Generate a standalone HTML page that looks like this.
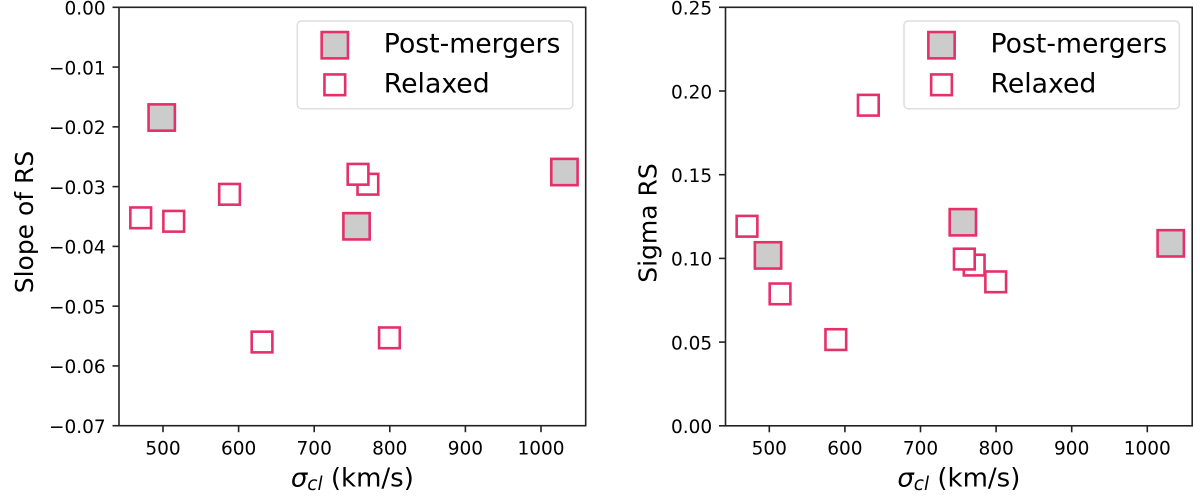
<!DOCTYPE html>
<html>
<head>
<meta charset="utf-8">
<style>
html,body{margin:0;padding:0;background:#fff;}
svg{display:block;}
text{font-family:"DejaVu Sans",sans-serif;fill:#000;}
</style>
</head>
<body>
<svg id="chart" xmlns="http://www.w3.org/2000/svg" width="1200" height="499" viewBox="0 0 1200 499"></svg>
<script>
var xTicks = [500, 600, 700, 800, 900, 1000];
var slopeTicks = [0, -0.01, -0.02, -0.03, -0.04, -0.05, -0.06, -0.07];
var sigmaTicks = [0, 0.05, 0.10, 0.15, 0.20, 0.25];
var mergerSigmaCl = [498.3, 756, 1031];
var mergerSlope = [-0.01844, -0.03664, -0.02756];
var mergerSigmaRs = [0.1018, 0.1216, 0.109];
var relaxedSigmaCl = [470.5, 514.2, 588, 631, 771, 758, 799.5];
var relaxedSlope = [-0.03522, -0.0358, -0.03129, -0.056, -0.0296, -0.02794, -0.0553];
var relaxedSigmaRs = [0.1192, 0.0788, 0.0515, 0.1915, 0.096, 0.0996, 0.086];

var svg = document.getElementById('chart');
var NS = 'http://www.w3.org/2000/svg';
var COLOR = '#e5306a';

function mk(tag, attrs, text) {
  var el = document.createElementNS(NS, tag);
  for (var k in attrs) el.setAttribute(k, attrs[k]);
  if (text !== undefined) el.textContent = text;
  svg.appendChild(el);
  return el;
}

function square(cx, cy, size, fill, name) {
  var el = mk('rect', {x: cx - size / 2, y: cy - size / 2, width: size, height: size, fill: fill, stroke: COLOR, 'stroke-width': 2.6});
  
  
}

function drawPanel(p) {
  var sx = function (v) { return p.x500 + (v - 500) * p.xScale; };
  var sy = function (v) { return p.top + (p.yMax - v) / (p.yMax - p.yMin) * (p.bottom - p.top); };

  var i, el;
  for (i = 0; i < mergerSigmaCl.length; i++) {
    square(sx(mergerSigmaCl[i]), sy(p.merger[i]), 26.3, '#cccccc', p.id + '-merger-point');
  }
  for (i = 0; i < relaxedSigmaCl.length; i++) {
    square(sx(relaxedSigmaCl[i]), sy(p.relaxed[i]), 20.7, '#ffffff', p.id + '-relaxed-point');
  }

  el = mk('rect', {x: p.left, y: p.top, width: p.right - p.left, height: p.bottom - p.top, fill: 'none', stroke: '#222', 'stroke-width': 1.6});
  
  

  xTicks.forEach(function (t) {
    var x = sx(t);
    var line = mk('line', {x1: x, x2: x, y1: p.bottom, y2: p.bottom + 6.5, stroke: '#222', 'stroke-width': 1.6});
    
    
    var label = mk('text', {x: x, y: 454.3, 'text-anchor': 'middle', 'font-size': 18.5}, String(t));
    
    
  });

  p.ticks.forEach(function (t) {
    var y = sy(t);
    var line = mk('line', {x1: p.left - 6.5, x2: p.left, y1: y, y2: y, stroke: '#222', 'stroke-width': 1.6});
    
    
    var txt = (t < 0 ? '\u2212' : '') + Math.abs(t).toFixed(2);
    var label = mk('text', {x: p.left - 13.3, y: y + 7.3, 'text-anchor': 'end', 'font-size': 18.5}, txt);
    
    
  });

  var xl = mk('text', {x: (p.left + p.right) / 2, y: 486.5, 'text-anchor': 'middle', 'font-size': 26});
  
  
  var s1 = document.createElementNS(NS, 'tspan');
  s1.setAttribute('font-style', 'italic');
  s1.textContent = '\u03C3';
  xl.appendChild(s1);
  var s2 = document.createElementNS(NS, 'tspan');
  s2.setAttribute('font-style', 'italic');
  s2.setAttribute('font-size', '18.5');
  s2.setAttribute('dy', '3.5');
  s2.textContent = 'cl';
  xl.appendChild(s2);
  var s3 = document.createElementNS(NS, 'tspan');
  s3.setAttribute('dy', '-3.5');
  s3.textContent = ' (km/s)';
  xl.appendChild(s3);

  var yl = mk('text', {x: 0, y: 0, 'text-anchor': 'middle', 'font-size': 25, transform: 'translate(' + p.yTitleX + ',' + p.yTitleY + ') rotate(-90)'}, p.yTitle);
  
  

  var box = mk('rect', {x: p.legendX, y: 21, width: 275.4, height: 87.7, rx: 4, fill: '#fff', stroke: '#dedede', 'stroke-width': 1.5});
  
  
  square(p.legendX + 37.5, 45.2, 26.3, '#cccccc', p.id + '-legend-merger-marker');
  square(p.legendX + 37.5, 84.8, 20.7, '#ffffff', p.id + '-legend-relaxed-marker');
  var l1 = mk('text', {x: p.legendX + 86.5, y: 52.7, 'font-size': 26.7}, 'Post-mergers');
  
  
  var l2 = mk('text', {x: p.legendX + 86.5, y: 92.3, 'font-size': 26.7}, 'Relaxed');
  
  
}

drawPanel({id: 'slope-panel', left: 119, right: 585.7, top: 7.3, bottom: 425.7, x500: 163, xScale: 0.756,
  yMax: 0, yMin: -0.07, ticks: slopeTicks, merger: mergerSlope, relaxed: relaxedSlope,
  yTitle: 'Slope of RS', yTitleX: 33, yTitleY: 222, legendX: 297.3});
drawPanel({id: 'sigma-panel', left: 725.5, right: 1192.2, top: 7.3, bottom: 425.8, x500: 769.3, xScale: 0.756,
  yMax: 0.25, yMin: 0, ticks: sigmaTicks, merger: mergerSigmaRs, relaxed: relaxedSigmaRs,
  yTitle: 'Sigma RS', yTitleX: 656.5, yTitleY: 223, legendX: 904});
</script>
</body>
</html>
